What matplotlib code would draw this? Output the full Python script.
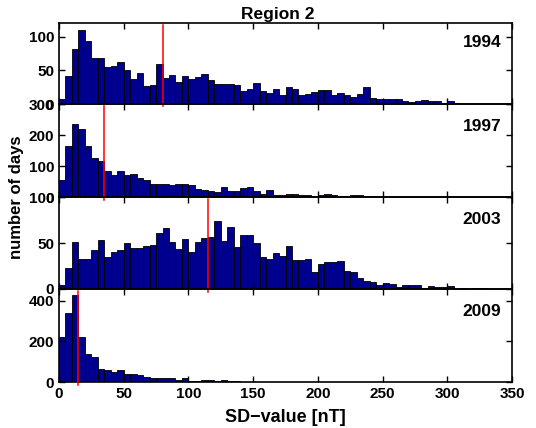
import matplotlib
matplotlib.use('Agg')
import matplotlib.pyplot as plt
import numpy as np

plt.rcParams['font.family'] = ['Liberation Sans', 'DejaVu Sans']
plt.rcParams['font.weight'] = 'bold'

# histogram counts per 5 nT bin (0-350 nT)
years = ['1994', '1997', '2003', '2009']
medians = [80, 35, 115, 15]

c1994 = [8, 42, 82, 110, 94, 68, 68, 55, 57, 62, 51, 37, 46, 27, 28, 59, 39, 43, 33, 42,
         37, 40, 45, 35, 30, 29, 30, 28, 19, 23, 31, 20, 16, 23, 13, 25, 23, 13, 15, 18,
         21, 21, 13, 16, 14, 10, 15, 25, 9, 7, 8, 8, 8, 5, 3, 4, 6, 4, 4, 1,
         5, 1, 0, 0, 0, 0, 0, 0, 0, 0]
c1997 = [56, 165, 236, 221, 165, 126, 118, 85, 72, 85, 72, 75, 62, 55, 42, 42, 42, 38, 42, 42,
         40, 27, 25, 20, 17, 32, 21, 21, 29, 33, 21, 12, 22, 9, 7, 10, 10, 9, 7, 5,
         8, 11, 8, 3, 4, 6, 6, 3, 2, 1, 2, 1, 1, 2, 1, 1, 2, 1, 1, 1,
         2, 1, 0, 0, 0, 0, 0, 0, 0, 0]
c2003 = [4, 23, 51, 33, 33, 43, 53, 35, 40, 42, 50, 45, 45, 47, 48, 61, 66, 51, 44, 54,
         40, 51, 56, 57, 74, 52, 68, 46, 59, 59, 50, 35, 33, 39, 36, 47, 32, 32, 33, 18,
         27, 29, 29, 31, 20, 19, 12, 9, 8, 4, 6, 5, 2, 4, 4, 4, 1, 3, 2, 2,
         3, 0, 1, 0, 1, 1, 0, 0, 0, 0]
c2009 = [220, 341, 428, 224, 137, 124, 64, 59, 49, 59, 41, 40, 35, 26, 20, 20, 18, 20, 12, 21,
         7, 6, 8, 8, 3, 8, 3, 3, 2, 1, 1, 2, 1, 0, 1, 0, 0, 1, 0, 1,
         0, 0, 1, 0, 1, 1, 0, 1, 0, 0, 1, 0, 0, 0, 0, 0, 0, 0, 0, 0,
         0, 0, 0, 0, 0, 0, 0, 0, 0, 0]
counts = [c1994, c1997, c2003, c2009]

ylims = [120, 300, 100, 458]
yticks = [[0, 50, 100], [0, 100, 200, 300], [0, 50, 100], [0, 200, 400]]

bin_w = 5
edges = np.arange(0, 350, bin_w)

fig = plt.figure(figsize=(5.36, 4.28), dpi=100)
W, H = 536.0, 428.0
left, right = 59, 512
# panel pixel extents (top, bottom)
panels = [(23.3, 104), (104, 197.3), (197.3, 289), (289, 382)]

for i in range(4):
    top, bot = panels[i]
    ax = fig.add_axes([left / W, 1 - bot / H, (right - left) / W, (bot - top) / H])
    ax.set_facecolor('none')
    ax.bar(edges, counts[i], width=bin_w, align='edge', color='#00008f',
           edgecolor='black', linewidth=0.6)
    ax.axvline(medians[i], ymin=-0.03, ymax=0.98, color='red', lw=1.1, clip_on=False, zorder=5)
    ax.set_xlim(0, 350)
    ax.set_ylim(0, ylims[i])
    ax.set_xticks(np.arange(0, 351, 50))
    ax.set_yticks(yticks[i])
    ax.tick_params(direction='in', top=True, right=True, length=4, width=1,
                   labelsize=11)
    for s in ax.spines.values():
        s.set_linewidth(1.2)
    if i < 3:
        ax.set_xticklabels([])
    else:
        ax.set_xlabel('SD\u2212value [nT]', fontsize=13, fontweight='bold', labelpad=6)
    for lab in ax.get_xticklabels() + ax.get_yticklabels():
        lab.set_fontweight('bold')
    ax.text(0.976, 0.76, years[i], transform=ax.transAxes, ha='right', va='center',
            fontsize=12.5, fontweight='bold')

fig.text(278 / W, 1 - 15 / H, 'Region 2', ha='center', va='center',
         fontsize=12.5, fontweight='bold')
fig.text(17 / W, 1 - 197 / H, 'number of days', rotation=90, ha='center', va='center',
         fontsize=12, fontweight='bold')

fig.savefig('out.png', dpi=100)
